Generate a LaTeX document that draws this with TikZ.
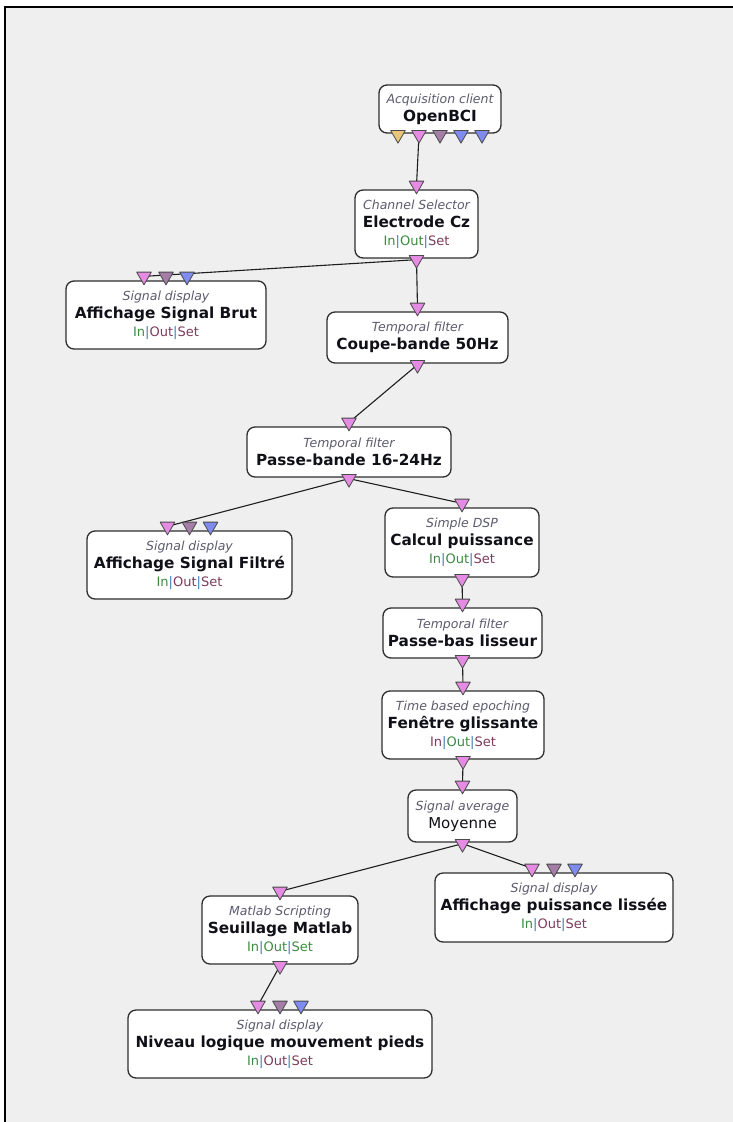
\documentclass[tikz,border=0pt]{standalone}
\usepackage{fontspec}
\setmainfont{DejaVu Sans}
\usetikzlibrary{shapes.geometric}
\definecolor{bgpanel}{HTML}{EFEFEF}
\definecolor{boxline}{HTML}{2E2E2E}
\definecolor{wirecol}{HTML}{1E1E1E}
\definecolor{portline}{HTML}{4A4A4A}
\definecolor{sigpink}{HTML}{E58BE3}
\definecolor{sigmauve}{HTML}{A57EA7}
\definecolor{sigblue}{HTML}{7F8BEF}
\definecolor{sigyellow}{HTML}{E7C67A}
\definecolor{typecol}{HTML}{5C5C6E}
\definecolor{namecol}{HTML}{101018}
\definecolor{ion}{HTML}{3D8B40}
\definecolor{ioff}{HTML}{7E3B5B}
\definecolor{iobar}{HTML}{3A7FB0}
\pgfdeclarelayer{bg}
\pgfdeclarelayer{wires}
\pgfsetlayers{bg,wires,main}
\newcommand\boxtype{\fontsize{12.5}{18}\selectfont\itshape\color{typecol}}
\newcommand\boxname{\fontsize{15.3}{18}\selectfont\bfseries\color{namecol}}
\newcommand\boxios[3]{{\fontsize{13}{18}\selectfont\textcolor{#1}{In}\textcolor{iobar}{|}\textcolor{#2}{Out}\textcolor{iobar}{|}\textcolor{#3}{Set}}}
\begin{document}
\begin{tikzpicture}[x=1pt, y=-1pt, font=\fontsize{15}{18}\selectfont, line cap=round, line join=round,
	box/.style={draw=boxline, fill=white, line width=1.3pt, rounded corners=8pt, align=center, inner sep=0pt},
	port/.style={regular polygon, regular polygon sides=3, shape border rotate=180, minimum size=17pt, inner sep=0pt, draw=portline, line width=0.8pt, fill=sigpink},
	wire/.style={draw=wirecol, line width=1.1pt}]
		\useasboundingbox (0,0) rectangle (733,1122);
		\begin{pgfonlayer}{bg}
			\fill[white] (0,0) rectangle (733,1122);
			\fill[bgpanel] (5,7) rectangle (733,1122);
			\draw[line width=1.8pt] (5,1122)--(5,7)--(733,7);
		\end{pgfonlayer}
		% boxes
		\node[box, minimum width=122pt, minimum height=48pt] (acq) at (440,109) {{\boxtype Acquisition client}\\{\boxname OpenBCI}};
		\node[box, minimum width=123pt, minimum height=68pt] (ecz) at (416.5,224) {{\boxtype Channel Selector}\\{\boxname Electrode Cz}\\\boxios{ion}{ion}{ioff}};
		\node[box, minimum width=200pt, minimum height=68pt] (brut) at (166,315) {{\boxtype Signal display}\\{\boxname Affichage Signal Brut}\\\boxios{ion}{ioff}{ioff}};
		\node[box, minimum width=181pt, minimum height=51pt] (coupe) at (417.5,337.5) {{\boxtype Temporal filter}\\{\boxname Coupe-bande 50Hz}};
		\node[box, minimum width=204pt, minimum height=50pt] (pbande) at (349,452) {{\boxtype Temporal filter}\\{\boxname Passe-bande 16-24Hz}};
		\node[box, minimum width=205pt, minimum height=68pt] (filt) at (189.5,565) {{\boxtype Signal display}\\{\boxname Affichage Signal Filtré}\\\boxios{ion}{ioff}{ioff}};
		\node[box, minimum width=154pt, minimum height=69pt] (calc) at (462,542.5) {{\boxtype Simple DSP}\\{\boxname Calcul puissance}\\\boxios{ion}{ion}{ioff}};
		\node[box, minimum width=159pt, minimum height=50pt] (pbas) at (462.5,633) {{\boxtype Temporal filter}\\{\boxname Passe-bas lisseur}};
		\node[box, minimum width=162pt, minimum height=68pt] (fen) at (463,725) {{\boxtype Time based epoching}\\{\boxname Fenêtre glissante}\\\boxios{ioff}{ion}{ioff}};
		\node[box, minimum width=109pt, minimum height=52pt] (moy) at (462.5,816) {{\boxtype Signal average}\\{\color{namecol}Moyenne}};
		\node[box, minimum width=238pt, minimum height=69pt] (liss) at (554,907.5) {{\boxtype Signal display}\\{\boxname Affichage puissance lissée}\\\boxios{ion}{ioff}{ioff}};
		\node[box, minimum width=156pt, minimum height=68pt] (seuil) at (280,930) {{\boxtype Matlab Scripting}\\{\boxname Seuillage Matlab}\\\boxios{ion}{ion}{ion}};
		\node[box, minimum width=304pt, minimum height=68pt] (niv) at (280,1044) {{\boxtype Signal display}\\{\boxname Niveau logique mouvement pieds}\\\boxios{ion}{ioff}{ioff}};
		% ports
		\node[port, fill=sigyellow] (acq-o1) at ([xshift=-42pt,yshift=-1pt]acq.south) {};
		\node[port] (acq-o2) at ([xshift=-21pt,yshift=-1pt]acq.south) {};
		\node[port, fill=sigmauve] (acq-o3) at ([yshift=-1pt]acq.south) {};
		\node[port, fill=sigblue] (acq-o4) at ([xshift=21pt,yshift=-1pt]acq.south) {};
		\node[port, fill=sigblue] (acq-o5) at ([xshift=42pt,yshift=-1pt]acq.south) {};
		\node[port] (ecz-i) at ([yshift=4pt]ecz.north) {};
		\node[port] (ecz-o) at ([yshift=-1pt]ecz.south) {};
		\node[port] (brut-i1) at ([xshift=-22pt,yshift=4pt]brut.north) {};
		\node[port, fill=sigmauve] (brut-i2) at ([yshift=4pt]brut.north) {};
		\node[port, fill=sigblue] (brut-i3) at ([xshift=21pt,yshift=4pt]brut.north) {};
		\node[port] (coupe-i) at ([yshift=4pt]coupe.north) {};
		\node[port] (coupe-o) at ([yshift=-1pt]coupe.south) {};
		\node[port] (pbande-i) at ([yshift=4pt]pbande.north) {};
		\node[port] (pbande-o) at ([yshift=-1pt]pbande.south) {};
		\node[port] (filt-i1) at ([xshift=-22pt,yshift=4pt]filt.north) {};
		\node[port, fill=sigmauve] (filt-i2) at ([yshift=4pt]filt.north) {};
		\node[port, fill=sigblue] (filt-i3) at ([xshift=21pt,yshift=4pt]filt.north) {};
		\node[port] (calc-i) at ([yshift=4pt]calc.north) {};
		\node[port] (calc-o) at ([yshift=-1pt]calc.south) {};
		\node[port] (pbas-i) at ([yshift=4pt]pbas.north) {};
		\node[port] (pbas-o) at ([yshift=-1pt]pbas.south) {};
		\node[port] (fen-i) at ([yshift=4pt]fen.north) {};
		\node[port] (fen-o) at ([yshift=-1pt]fen.south) {};
		\node[port] (moy-i) at ([yshift=4pt]moy.north) {};
		\node[port] (moy-o) at ([yshift=-1pt]moy.south) {};
		\node[port] (liss-i1) at ([xshift=-22pt,yshift=4pt]liss.north) {};
		\node[port, fill=sigmauve] (liss-i2) at ([yshift=4pt]liss.north) {};
		\node[port, fill=sigblue] (liss-i3) at ([xshift=21pt,yshift=4pt]liss.north) {};
		\node[port] (seuil-i) at ([yshift=4pt]seuil.north) {};
		\node[port] (seuil-o) at ([yshift=-1pt]seuil.south) {};
		\node[port] (niv-i1) at ([xshift=-22pt,yshift=4pt]niv.north) {};
		\node[port, fill=sigmauve] (niv-i2) at ([yshift=4pt]niv.north) {};
		\node[port, fill=sigblue] (niv-i3) at ([xshift=21pt,yshift=4pt]niv.north) {};
		% links
		\begin{pgfonlayer}{wires}
			\draw[wire] (acq-o2.center)--(ecz-i.center);
			\draw[wire] (ecz-o.center)--(brut-i1.center);
			\draw[wire] (ecz-o.center)--(coupe-i.center);
			\draw[wire] (coupe-o.center)--(pbande-i.center);
			\draw[wire] (pbande-o.center)--(filt-i1.center);
			\draw[wire] (pbande-o.center)--(calc-i.center);
			\draw[wire] (calc-o.center)--(pbas-i.center);
			\draw[wire] (pbas-o.center)--(fen-i.center);
			\draw[wire] (fen-o.center)--(moy-i.center);
			\draw[wire] (moy-o.center)--(seuil-i.center);
			\draw[wire] (moy-o.center)--(liss-i1.center);
			\draw[wire] (seuil-o.center)--(niv-i1.center);
		\end{pgfonlayer}
\end{tikzpicture}
\end{document}
